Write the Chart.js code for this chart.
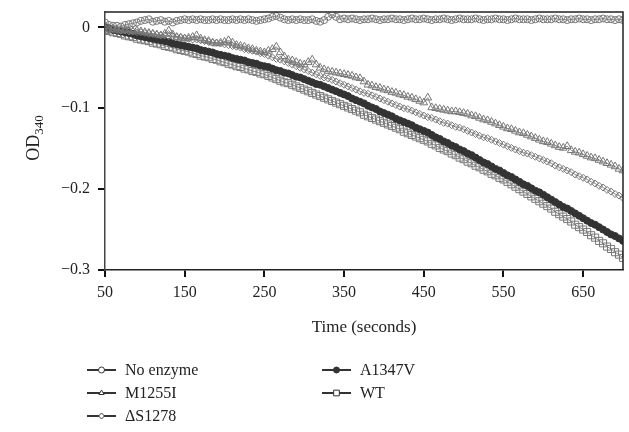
<!DOCTYPE html>
<html>
<head>
<meta charset="utf-8">
<script src="https://cdn.jsdelivr.net/npm/chart.js@4"></script>
<style>
  html, body { margin: 0; padding: 0; background: #fff; }
  #wrap { width: 629px; height: 432px; position: relative; }
</style>
</head>
<body>
<div id="wrap"><canvas id="odChart" width="629" height="432"></canvas></div>
<script>
// time points (seconds)
const times = [50,
  55, 60, 65, 70, 75, 80, 85, 90, 95, 100,
  105, 110, 115, 120, 125, 130, 135, 140, 145, 150,
  155, 160, 165, 170, 175, 180, 185, 190, 195, 200,
  205, 210, 215, 220, 225, 230, 235, 240, 245, 250,
  255, 260, 265, 270, 275, 280, 285, 290, 295, 300,
  305, 310, 315, 320, 325, 330, 335, 340, 345, 350,
  355, 360, 365, 370, 375, 380, 385, 390, 395, 400,
  405, 410, 415, 420, 425, 430, 435, 440, 445, 450,
  455, 460, 465, 470, 475, 480, 485, 490, 495, 500,
  505, 510, 515, 520, 525, 530, 535, 540, 545, 550,
  555, 560, 565, 570, 575, 580, 585, 590, 595, 600,
  605, 610, 615, 620, 625, 630, 635, 640, 645, 650,
  655, 660, 665, 670, 675, 680, 685, 690, 695, 700];

const xTicks = [50, 150, 250, 350, 450, 550, 650];
const yTicks = [-0.3, -0.2, -0.1, 0];

const noEnzyme = [0.006,
  0.003, 0.002, 0.002, 0.001, 0.003, 0.004, 0.005, 0.006, 0.008, 0.009,
  0.010, 0.007, 0.008, 0.009, 0.007, 0.008, 0.006, 0.008, 0.009, 0.010,
  0.009, 0.010, 0.009, 0.010, 0.009, 0.009, 0.010, 0.009, 0.010, 0.009,
  0.009, 0.010, 0.009, 0.010, 0.009, 0.010, 0.009, 0.008, 0.009, 0.010,
  0.011, 0.013, 0.014, 0.012, 0.010, 0.009, 0.010, 0.009, 0.010, 0.009,
  0.009, 0.010, 0.008, 0.007, 0.009, 0.013, 0.016, 0.013, 0.010, 0.011,
  0.010, 0.011, 0.010, 0.009, 0.010, 0.010, 0.011, 0.010, 0.009, 0.010,
  0.010, 0.011, 0.010, 0.010, 0.009, 0.010, 0.011, 0.010, 0.010, 0.011,
  0.010, 0.009, 0.010, 0.010, 0.011, 0.010, 0.009, 0.010, 0.011, 0.010,
  0.010, 0.010, 0.011, 0.010, 0.009, 0.010, 0.010, 0.011, 0.010, 0.010,
  0.009, 0.010, 0.011, 0.010, 0.010, 0.010, 0.009, 0.010, 0.011, 0.010,
  0.010, 0.010, 0.011, 0.010, 0.010, 0.009, 0.010, 0.010, 0.011, 0.010,
  0.010, 0.009, 0.010, 0.010, 0.011, 0.010, 0.010, 0.009, 0.010, 0.009];

const m1255i = [-0.006,
  -0.003, -0.002, -0.003, -0.004, -0.003, -0.004, -0.005, -0.004, -0.005, -0.006,
  -0.007, -0.008, -0.009, -0.010, -0.008, -0.004, -0.009, -0.012, -0.013, -0.014,
  -0.013, -0.012, -0.010, -0.014, -0.016, -0.017, -0.019, -0.020, -0.019, -0.018,
  -0.016, -0.019, -0.022, -0.023, -0.024, -0.026, -0.027, -0.029, -0.030, -0.031,
  -0.029, -0.027, -0.024, -0.031, -0.036, -0.040, -0.041, -0.043, -0.045, -0.046,
  -0.043, -0.040, -0.046, -0.050, -0.052, -0.054, -0.055, -0.056, -0.057, -0.058,
  -0.059, -0.060, -0.062, -0.063, -0.067, -0.071, -0.072, -0.074, -0.075, -0.077,
  -0.078, -0.080, -0.081, -0.083, -0.084, -0.086, -0.087, -0.089, -0.091, -0.093,
  -0.087, -0.099, -0.100, -0.101, -0.102, -0.103, -0.104, -0.104, -0.105, -0.106,
  -0.107, -0.109, -0.110, -0.112, -0.114, -0.115, -0.117, -0.119, -0.121, -0.123,
  -0.125, -0.126, -0.128, -0.130, -0.131, -0.133, -0.135, -0.137, -0.139, -0.141,
  -0.142, -0.144, -0.146, -0.148, -0.149, -0.147, -0.152, -0.154, -0.155, -0.157,
  -0.159, -0.161, -0.162, -0.164, -0.166, -0.168, -0.170, -0.172, -0.175, -0.177];

const dS1278 = [-0.001,
  -0.002, -0.002, -0.003, -0.004, -0.004, -0.005, -0.005, -0.006, -0.006, -0.007,
  -0.008, -0.008, -0.009, -0.010, -0.010, -0.011, -0.011, -0.012, -0.012, -0.013,
  -0.014, -0.015, -0.015, -0.016, -0.017, -0.018, -0.019, -0.019, -0.020, -0.021,
  -0.022, -0.023, -0.024, -0.025, -0.027, -0.028, -0.029, -0.030, -0.032, -0.033,
  -0.035, -0.037, -0.039, -0.040, -0.042, -0.044, -0.046, -0.048, -0.050, -0.052,
  -0.054, -0.056, -0.058, -0.060, -0.062, -0.063, -0.065, -0.067, -0.069, -0.071,
  -0.073, -0.075, -0.077, -0.079, -0.081, -0.082, -0.084, -0.086, -0.088, -0.090,
  -0.092, -0.094, -0.096, -0.098, -0.100, -0.101, -0.103, -0.105, -0.107, -0.109,
  -0.111, -0.112, -0.114, -0.116, -0.118, -0.119, -0.121, -0.123, -0.124, -0.126,
  -0.128, -0.130, -0.132, -0.134, -0.136, -0.137, -0.139, -0.141, -0.143, -0.145,
  -0.147, -0.149, -0.151, -0.153, -0.155, -0.156, -0.158, -0.160, -0.162, -0.164,
  -0.166, -0.168, -0.171, -0.173, -0.175, -0.177, -0.179, -0.182, -0.184, -0.186,
  -0.188, -0.191, -0.193, -0.196, -0.198, -0.201, -0.203, -0.206, -0.208, -0.211];

const a1347v = [0.000,
  -0.001, -0.003, -0.004, -0.005, -0.006, -0.007, -0.008, -0.010, -0.011, -0.012,
  -0.013, -0.014, -0.015, -0.016, -0.017, -0.018, -0.020, -0.021, -0.022, -0.023,
  -0.024, -0.025, -0.026, -0.028, -0.029, -0.030, -0.031, -0.033, -0.034, -0.035,
  -0.036, -0.038, -0.039, -0.040, -0.041, -0.043, -0.044, -0.045, -0.047, -0.048,
  -0.049, -0.051, -0.053, -0.054, -0.056, -0.057, -0.059, -0.061, -0.062, -0.064,
  -0.066, -0.068, -0.070, -0.071, -0.073, -0.075, -0.077, -0.079, -0.081, -0.083,
  -0.085, -0.088, -0.090, -0.092, -0.094, -0.097, -0.099, -0.101, -0.104, -0.106,
  -0.108, -0.110, -0.113, -0.115, -0.117, -0.119, -0.121, -0.124, -0.126, -0.128,
  -0.130, -0.133, -0.136, -0.138, -0.141, -0.143, -0.146, -0.148, -0.151, -0.153,
  -0.156, -0.158, -0.161, -0.164, -0.167, -0.169, -0.172, -0.175, -0.177, -0.180,
  -0.183, -0.185, -0.188, -0.191, -0.194, -0.196, -0.199, -0.202, -0.204, -0.207,
  -0.210, -0.213, -0.216, -0.219, -0.222, -0.224, -0.227, -0.230, -0.233, -0.236,
  -0.239, -0.242, -0.244, -0.247, -0.250, -0.253, -0.256, -0.258, -0.261, -0.264];

const wt = [-0.003,
  -0.004, -0.006, -0.007, -0.008, -0.010, -0.011, -0.012, -0.014, -0.015, -0.016,
  -0.017, -0.019, -0.020, -0.021, -0.023, -0.024, -0.025, -0.027, -0.028, -0.029,
  -0.030, -0.032, -0.033, -0.035, -0.036, -0.037, -0.039, -0.040, -0.042, -0.043,
  -0.045, -0.046, -0.048, -0.049, -0.051, -0.052, -0.054, -0.055, -0.057, -0.058,
  -0.060, -0.062, -0.064, -0.066, -0.068, -0.069, -0.071, -0.073, -0.075, -0.077,
  -0.079, -0.081, -0.083, -0.085, -0.087, -0.089, -0.091, -0.093, -0.095, -0.097,
  -0.099, -0.101, -0.103, -0.105, -0.108, -0.110, -0.112, -0.114, -0.116, -0.118,
  -0.120, -0.122, -0.124, -0.126, -0.129, -0.131, -0.133, -0.135, -0.137, -0.139,
  -0.141, -0.144, -0.146, -0.149, -0.151, -0.153, -0.156, -0.158, -0.161, -0.163,
  -0.166, -0.168, -0.171, -0.173, -0.176, -0.178, -0.181, -0.183, -0.186, -0.188,
  -0.191, -0.194, -0.197, -0.200, -0.203, -0.206, -0.209, -0.212, -0.215, -0.218,
  -0.221, -0.224, -0.228, -0.231, -0.234, -0.237, -0.240, -0.244, -0.247, -0.250,
  -0.253, -0.257, -0.260, -0.264, -0.267, -0.271, -0.274, -0.278, -0.281, -0.285];

const FONT = "'Liberation Serif', 'DejaVu Serif', serif";

function pts(values) {
  return times.map((t, i) => ({ x: t, y: values[i] }));
}

function series(label, values, style, radius, filled) {
  return {
    label: label,
    data: pts(values),
    borderColor: '#6f6f6f',
    borderWidth: 0.8,
    pointStyle: style,
    pointRadius: radius,
    pointBorderWidth: 1,
    pointBorderColor: filled ? '#333' : '#777',
    pointBackgroundColor: filled ? '#333' : 'rgba(255,255,255,0)',
    fill: false,
    tension: 0
  };
}

// legend laid out in two columns under the plot
const legendSlots = [
  { x: 87, y: 370 }, { x: 87, y: 393 }, { x: 87, y: 416 },
  { x: 322, y: 370 }, { x: 322, y: 393 }
];

const extras = {
  id: 'extras',
  afterDraw(chart) {
    const ctx = chart.ctx;
    const a = chart.chartArea;
    ctx.save();
    // frame on top and right
    ctx.strokeStyle = '#222';
    ctx.lineWidth = 1.5;
    ctx.beginPath();
    ctx.moveTo(a.left, a.top);
    ctx.lineTo(a.right, a.top);
    ctx.lineTo(a.right, a.bottom);
    ctx.stroke();

    // y title with subscript
    ctx.fillStyle = '#222';
    ctx.translate(33, 138);
    ctx.rotate(-Math.PI / 2);
    ctx.font = '18px ' + FONT;
    const w1 = ctx.measureText('OD').width;
    ctx.font = '13px ' + FONT;
    const w2 = ctx.measureText('340').width;
    const start = -(w1 + w2) / 2;
    ctx.textBaseline = 'alphabetic';
    ctx.textAlign = 'left';
    ctx.font = '18px ' + FONT;
    ctx.fillText('OD', start, 6);
    ctx.font = '13px ' + FONT;
    ctx.fillText('340', start + w1, 10);
    ctx.restore();

    // legend
    ctx.save();
    chart.data.datasets.forEach((ds, i) => {
      const s = legendSlots[i];
      const r = ds.pointStyle === 'rect' ? 4 : 3;
      ctx.strokeStyle = '#333';
      ctx.lineWidth = 2;
      ctx.beginPath();
      ctx.moveTo(s.x, s.y);
      ctx.lineTo(s.x + 29, s.y);
      ctx.stroke();
      ctx.fillStyle = ds.pointBackgroundColor === '#333' ? '#333' : '#fff';
      ctx.strokeStyle = '#333';
      ctx.lineWidth = 1;
      Chart.helpers.drawPoint(ctx, { pointStyle: ds.pointStyle, radius: r, borderWidth: 1 }, s.x + 14.5, s.y);
      ctx.fillStyle = '#222';
      ctx.font = '16px ' + FONT;
      ctx.textBaseline = 'middle';
      ctx.textAlign = 'left';
      ctx.fillText(ds.label, s.x + 38, s.y + 1);
    });
    ctx.restore();
  }
};

new Chart(document.getElementById('odChart'), {
  type: 'line',
  data: {
    datasets: [
      series('No enzyme', noEnzyme, 'circle', 3.5, false),
      series('M1255I', m1255i, 'triangle', 4.5, false),
      series('ΔS1278', dS1278, 'rectRot', 3.5, false),
      series('A1347V', a1347v, 'circle', 3.5, true),
      series('WT', wt, 'rect', 5, false)
    ]
  },
  options: {
    responsive: false,
    animation: false,
    layout: { padding: { left: 0, right: 6, top: 12, bottom: 94 } },
    plugins: {
      legend: { display: false },
      tooltip: { enabled: false }
    },
    scales: {
      x: {
        type: 'linear',
        min: 50,
        max: 700,
        afterBuildTicks: axis => { axis.ticks = xTicks.map(v => ({ value: v })); },
        afterFit: scale => { scale.height = 68; scale.paddingLeft = 0; scale.paddingRight = 0; },
        border: { display: true, color: '#222', width: 1.5 },
        grid: { drawOnChartArea: false, drawTicks: true, tickLength: 7, color: '#111', lineWidth: 2 },
        ticks: {
          color: '#222',
          padding: 6,
          font: { family: FONT, size: 16 },
          callback: v => String(v)
        },
        title: {
          display: true,
          text: 'Time (seconds)',
          color: '#222',
          font: { family: FONT, size: 17 },
          padding: { top: 2, bottom: 0 }
        }
      },
      y: {
        min: -0.3,
        max: 0.019,
        afterBuildTicks: axis => { axis.ticks = yTicks.map(v => ({ value: v })); },
        afterFit: scale => { scale.width = 105; scale.paddingTop = 0; scale.paddingBottom = 0; },
        border: { display: true, color: '#444', width: 1.5 },
        grid: { drawOnChartArea: false, drawTicks: true, tickLength: 7, color: '#111', lineWidth: 2 },
        ticks: {
          color: '#222',
          padding: 8,
          font: { family: FONT, size: 16 },
          callback: v => v === 0 ? '0' : '\u2212' + Math.abs(v).toFixed(1)
        }
      }
    }
  },
  plugins: [extras]
});
</script>
</body>
</html>
